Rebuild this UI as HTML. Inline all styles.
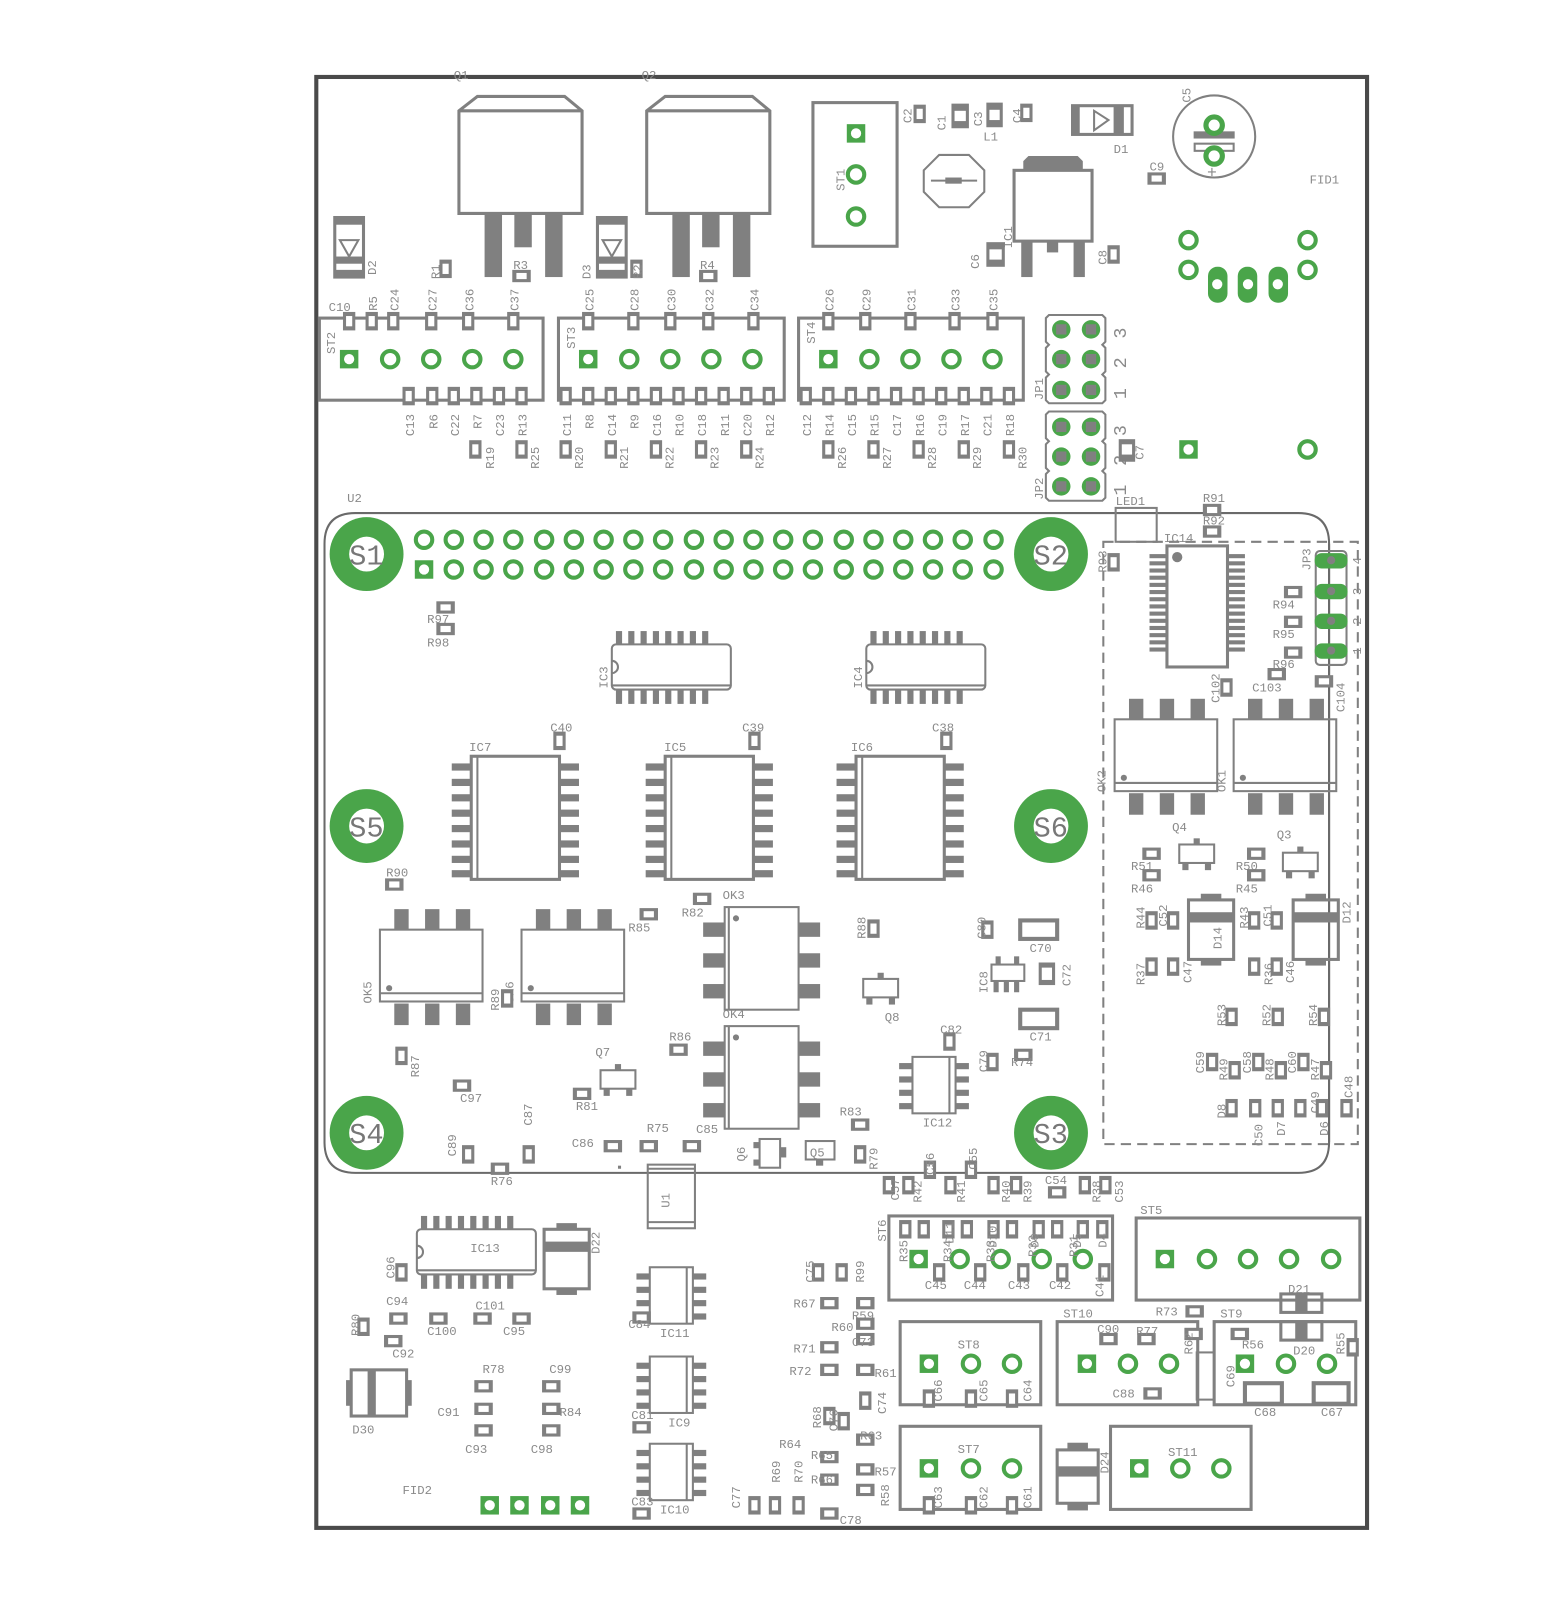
<!DOCTYPE html>
<html><head><meta charset="utf-8"><style>
html,body{margin:0;padding:0;background:#fff}
svg{display:block}
text{font-family:"Liberation Mono",monospace;font-size:12px;fill:#8a8a8a}
.s{fill:none;stroke:#808080;stroke-width:3}
.s2{fill:none;stroke:#808080;stroke-width:2}
.g{fill:#808080}
.big{font-size:28px;fill:#777}
</style></head><body>
<svg width="1552" height="1611" viewBox="0 0 1512 1570" xmlns="http://www.w3.org/2000/svg">
<defs>
<g id="pv"><rect x="-6" y="-9" width="12" height="18" fill="#808080"/><rect x="-3" y="-5" width="6" height="10" fill="#fff"/></g>
<g id="ph"><rect x="-9" y="-6" width="18" height="12" fill="#808080"/><rect x="-5" y="-3" width="10" height="6" fill="#fff"/></g>
<circle id="ho" r="8" fill="#fff" stroke="#4aa54a" stroke-width="4"/>
<g id="sq"><rect x="-9" y="-9" width="18" height="18" fill="#4aa54a"/><circle r="5" fill="#fff"/></g>
<g id="jp"><circle r="9" fill="#4aa54a"/><rect x="-5" y="-5" width="10" height="10" fill="#808080"/></g>
<g id="S"><circle r="36" fill="#4aa54a"/><circle r="17" fill="#fff"/></g>
<g id="soic"><rect x="0" y="0" width="86" height="120" class="s"/><line x1="6" y1="0" x2="6" y2="120" class="s2"/>
<g class="g"><rect x="-19" y="7" width="19" height="7"/><rect x="-19" y="22" width="19" height="7"/><rect x="-19" y="37" width="19" height="7"/><rect x="-19" y="52" width="19" height="7"/><rect x="-19" y="67" width="19" height="7"/><rect x="-19" y="82" width="19" height="7"/><rect x="-19" y="97" width="19" height="7"/><rect x="-19" y="111" width="19" height="7"/>
<rect x="86" y="7" width="19" height="7"/><rect x="86" y="22" width="19" height="7"/><rect x="86" y="37" width="19" height="7"/><rect x="86" y="52" width="19" height="7"/><rect x="86" y="67" width="19" height="7"/><rect x="86" y="82" width="19" height="7"/><rect x="86" y="97" width="19" height="7"/><rect x="86" y="111" width="19" height="7"/></g></g>
<g id="dip"><rect x="0" y="0" width="116" height="44" rx="4" class="s2"/><path d="M0,16 a6,6 0 0 1 0,12" class="s2"/><line x1="0" y1="40" x2="116" y2="40" class="s2"/>
<g class="g"><rect x="4" y="-13" width="6" height="13"/><rect x="16" y="-13" width="6" height="13"/><rect x="28" y="-13" width="6" height="13"/><rect x="40" y="-13" width="6" height="13"/><rect x="52" y="-13" width="6" height="13"/><rect x="64" y="-13" width="6" height="13"/><rect x="76" y="-13" width="6" height="13"/><rect x="88" y="-13" width="6" height="13"/>
<rect x="4" y="44" width="6" height="14"/><rect x="16" y="44" width="6" height="14"/><rect x="28" y="44" width="6" height="14"/><rect x="40" y="44" width="6" height="14"/><rect x="52" y="44" width="6" height="14"/><rect x="64" y="44" width="6" height="14"/><rect x="76" y="44" width="6" height="14"/><rect x="88" y="44" width="6" height="14"/></g></g>
<g id="ok"><rect x="0" y="0" width="100" height="70" class="s2"/><line x1="0" y1="62" x2="100" y2="62" class="s2"/><circle cx="9" cy="57" r="3" fill="#808080"/>
<g class="g"><rect x="14" y="-20" width="14" height="20"/><rect x="44" y="-20" width="14" height="20"/><rect x="74" y="-20" width="14" height="20"/><rect x="14" y="72" width="14" height="21"/><rect x="44" y="72" width="14" height="21"/><rect x="74" y="72" width="14" height="21"/></g></g>
<g id="okv"><rect x="0" y="0" width="72" height="100" class="s2"/><line x1="4" y1="0" x2="4" y2="100" class="s2"/><circle cx="11" cy="11" r="3" fill="#808080"/>
<g class="g"><rect x="-21" y="15" width="21" height="14"/><rect x="-21" y="45" width="21" height="14"/><rect x="-21" y="75" width="21" height="14"/><rect x="72" y="15" width="21" height="14"/><rect x="72" y="45" width="21" height="14"/><rect x="72" y="75" width="21" height="14"/></g></g>
<g id="so8"><rect x="0" y="0" width="42" height="55" class="s2"/><line x1="36" y1="0" x2="36" y2="55" class="s2"/>
<g class="g"><rect x="-13" y="6" width="13" height="6"/><rect x="-13" y="19" width="13" height="6"/><rect x="-13" y="32" width="13" height="6"/><rect x="-13" y="45" width="13" height="6"/><rect x="42" y="6" width="13" height="6"/><rect x="42" y="19" width="13" height="6"/><rect x="42" y="32" width="13" height="6"/><rect x="42" y="45" width="13" height="6"/></g></g>
<g id="sot"><rect x="-17" y="-9" width="34" height="18" class="s2"/><g class="g"><rect x="-3" y="-15" width="6" height="6"/><rect x="-14" y="9" width="6" height="7"/><rect x="8" y="9" width="6" height="7"/></g></g>
<g id="smd"><rect x="0" y="0" width="44" height="58" class="s"/><rect x="0" y="12" width="44" height="10" fill="#808080"/><rect x="12" y="-6" width="20" height="6" fill="#808080"/><rect x="12" y="58" width="20" height="6" fill="#808080"/></g>
<g id="dio"><rect x="0" y="0" width="28" height="58" class="s"/><rect x="0" y="0" width="28" height="7" fill="#808080"/><rect x="0" y="51" width="28" height="7" fill="#808080"/><rect x="0" y="38" width="28" height="7" fill="#808080"/><path d="M5,22 L23,22 L14,38 Z" class="s2"/></g>
<g id="to"><path d="M0,14 L18,0 L103,0 L120,14 L120,114 L0,114 Z M0,14 L120,14" class="s"/><g class="g"><rect x="25" y="114" width="17" height="62"/><rect x="54" y="114" width="17" height="33"/><rect x="84" y="114" width="17" height="62"/></g></g>
</defs>

<!-- board -->
<rect x="308" y="75" width="1024" height="1414" fill="none" stroke="#4a4a4a" stroke-width="4"/>

<!-- Q1 Q2 -->
<text x="442" y="77">Q1</text><text x="625" y="77">Q2</text>
<use href="#to" x="447" y="94"/><use href="#to" x="630" y="94"/>
<use href="#dio" x="326" y="212"/><use href="#dio" x="582" y="212"/>
<text transform="translate(366,268) rotate(-90)">D2</text>
<text transform="translate(575,272) rotate(-90)">D3</text>
<use href="#pv" x="434" y="262"/><text transform="translate(428,272) rotate(-90)">R1</text>
<use href="#ph" x="508" y="269"/><text x="500" y="262">R3</text>
<use href="#pv" x="620" y="262"/><text transform="translate(625,272) rotate(-90)">R2</text>
<use href="#ph" x="690" y="269"/><text x="682" y="262">R4</text>

<!-- ST2 ST3 ST4 -->
<rect x="311" y="310" width="218" height="80" class="s"/>
<rect x="544" y="310" width="220" height="80" class="s"/>
<rect x="778" y="310" width="219" height="80" class="s"/>
<text transform="translate(326,345) rotate(-90)">ST2</text>
<text transform="translate(560,340) rotate(-90)">ST3</text>
<text transform="translate(794,335) rotate(-90)">ST4</text>
<use href="#sq" x="340" y="350"/><use href="#ho" x="380" y="350"/><use href="#ho" x="420" y="350"/><use href="#ho" x="460" y="350"/><use href="#ho" x="500" y="350"/>
<use href="#sq" x="573" y="350"/><use href="#ho" x="613" y="350"/><use href="#ho" x="653" y="350"/><use href="#ho" x="693" y="350"/><use href="#ho" x="733" y="350"/>
<use href="#sq" x="807" y="350"/><use href="#ho" x="847" y="350"/><use href="#ho" x="887" y="350"/><use href="#ho" x="927" y="350"/><use href="#ho" x="967" y="350"/>
<!-- top pads -->
<g>
<use href="#pv" x="340" y="313"/><use href="#pv" x="362" y="313"/><use href="#pv" x="383" y="313"/><use href="#pv" x="420" y="313"/><use href="#pv" x="456" y="313"/><use href="#pv" x="500" y="313"/>
<use href="#pv" x="573" y="313"/><use href="#pv" x="617" y="313"/><use href="#pv" x="653" y="313"/><use href="#pv" x="690" y="313"/><use href="#pv" x="734" y="313"/>
<use href="#pv" x="807" y="313"/><use href="#pv" x="843" y="313"/><use href="#pv" x="887" y="313"/><use href="#pv" x="930" y="313"/><use href="#pv" x="967" y="313"/>
</g>
<text x="320" y="303">C10</text>
<text transform="translate(367,303) rotate(-90)">R5</text>
<text transform="translate(388,303) rotate(-90)">C24</text>
<text transform="translate(425,303) rotate(-90)">C27</text>
<text transform="translate(461,303) rotate(-90)">C36</text>
<text transform="translate(505,303) rotate(-90)">C37</text>
<text transform="translate(578,303) rotate(-90)">C25</text>
<text transform="translate(622,303) rotate(-90)">C28</text>
<text transform="translate(658,303) rotate(-90)">C30</text>
<text transform="translate(695,303) rotate(-90)">C32</text>
<text transform="translate(739,303) rotate(-90)">C34</text>
<text transform="translate(812,303) rotate(-90)">C26</text>
<text transform="translate(848,303) rotate(-90)">C29</text>
<text transform="translate(892,303) rotate(-90)">C31</text>
<text transform="translate(935,303) rotate(-90)">C33</text>
<text transform="translate(972,303) rotate(-90)">C35</text>
<!-- bottom pads -->
<g>
<use href="#pv" x="398" y="386"/><use href="#pv" x="421" y="386"/><use href="#pv" x="442" y="386"/><use href="#pv" x="464" y="386"/><use href="#pv" x="486" y="386"/><use href="#pv" x="508" y="386"/>
<use href="#pv" x="551" y="386"/><use href="#pv" x="573" y="386"/><use href="#pv" x="595" y="386"/><use href="#pv" x="617" y="386"/><use href="#pv" x="639" y="386"/><use href="#pv" x="661" y="386"/><use href="#pv" x="683" y="386"/><use href="#pv" x="705" y="386"/><use href="#pv" x="727" y="386"/><use href="#pv" x="749" y="386"/>
<use href="#pv" x="785" y="386"/><use href="#pv" x="807" y="386"/><use href="#pv" x="829" y="386"/><use href="#pv" x="851" y="386"/><use href="#pv" x="873" y="386"/><use href="#pv" x="895" y="386"/><use href="#pv" x="917" y="386"/><use href="#pv" x="939" y="386"/><use href="#pv" x="961" y="386"/><use href="#pv" x="983" y="386"/>
</g>
<g>
<text transform="translate(403,425) rotate(-90)">C13</text><text transform="translate(426,418) rotate(-90)">R6</text><text transform="translate(447,425) rotate(-90)">C22</text><text transform="translate(469,418) rotate(-90)">R7</text><text transform="translate(491,425) rotate(-90)">C23</text><text transform="translate(513,425) rotate(-90)">R13</text>
<text transform="translate(556,425) rotate(-90)">C11</text><text transform="translate(578,418) rotate(-90)">R8</text><text transform="translate(600,425) rotate(-90)">C14</text><text transform="translate(622,418) rotate(-90)">R9</text><text transform="translate(644,425) rotate(-90)">C16</text><text transform="translate(666,425) rotate(-90)">R10</text><text transform="translate(688,425) rotate(-90)">C18</text><text transform="translate(710,425) rotate(-90)">R11</text><text transform="translate(732,425) rotate(-90)">C20</text><text transform="translate(754,425) rotate(-90)">R12</text>
<text transform="translate(790,425) rotate(-90)">C12</text><text transform="translate(812,425) rotate(-90)">R14</text><text transform="translate(834,425) rotate(-90)">C15</text><text transform="translate(856,425) rotate(-90)">R15</text><text transform="translate(878,425) rotate(-90)">C17</text><text transform="translate(900,425) rotate(-90)">R16</text><text transform="translate(922,425) rotate(-90)">C19</text><text transform="translate(944,425) rotate(-90)">R17</text><text transform="translate(966,425) rotate(-90)">C21</text><text transform="translate(988,425) rotate(-90)">R18</text>
</g>
<g>
<use href="#pv" x="463" y="438"/><use href="#pv" x="508" y="438"/><use href="#pv" x="551" y="438"/><use href="#pv" x="595" y="438"/><use href="#pv" x="639" y="438"/><use href="#pv" x="683" y="438"/><use href="#pv" x="727" y="438"/><use href="#pv" x="807" y="438"/><use href="#pv" x="851" y="438"/><use href="#pv" x="895" y="438"/><use href="#pv" x="939" y="438"/><use href="#pv" x="983" y="438"/>
<text transform="translate(481,457) rotate(-90)">R19</text><text transform="translate(525,457) rotate(-90)">R25</text><text transform="translate(568,457) rotate(-90)">R20</text><text transform="translate(612,457) rotate(-90)">R21</text><text transform="translate(656,457) rotate(-90)">R22</text><text transform="translate(700,457) rotate(-90)">R23</text><text transform="translate(744,457) rotate(-90)">R24</text><text transform="translate(824,457) rotate(-90)">R26</text><text transform="translate(868,457) rotate(-90)">R27</text><text transform="translate(912,457) rotate(-90)">R28</text><text transform="translate(956,457) rotate(-90)">R29</text><text transform="translate(1000,457) rotate(-90)">R30</text>
</g>

<!-- ST1 -->
<rect x="792" y="100" width="82" height="140" class="s"/>
<use href="#sq" x="834" y="130"/><use href="#ho" x="834" y="170"/><use href="#ho" x="834" y="211"/>
<text transform="translate(823,186) rotate(-90)">ST1</text>
<use href="#pv" x="896" y="111"/><text transform="translate(888,120) rotate(-90)">C2</text>
<rect x="927" y="101" width="17" height="24" fill="#808080"/><rect x="930" y="108" width="11" height="10" fill="#fff"/><text transform="translate(921,127) rotate(-90)">C1</text>
<rect x="961" y="100" width="16" height="24" fill="#808080"/><rect x="964" y="107" width="10" height="10" fill="#fff"/><text transform="translate(957,123) rotate(-90)">C3</text>
<use href="#pv" x="1000" y="110"/><text transform="translate(995,120) rotate(-90)">C4</text>
<text x="958" y="137">L1</text>
<path d="M900,166 L915,151 L944,151 L959,166 L959,187 L944,202 L915,202 L900,187 Z" class="s2"/>
<line x1="907" y1="176" x2="952" y2="176" class="s2"/><rect x="921" y="173" width="16" height="6" fill="#808080"/>
<!-- regulator -->
<path d="M997,166 L997,157 L1002,152 L1050,152 L1055,157 L1055,166 Z" fill="#808080"/>
<rect x="988" y="166" width="76" height="69" class="s"/>
<g class="g"><rect x="995" y="236" width="11" height="34"/><rect x="1020" y="236" width="11" height="10"/><rect x="1046" y="236" width="11" height="34"/></g>
<text transform="translate(986,242) rotate(-90)">IC1</text>
<rect x="961" y="236" width="18" height="24" fill="#808080"/><rect x="964" y="243" width="12" height="10" fill="#fff"/><text transform="translate(954,262) rotate(-90)">C6</text>
<use href="#pv" x="1085" y="248"/><text transform="translate(1078,258) rotate(-90)">C8</text>
<!-- D1 -->
<rect x="1045" y="103" width="58" height="28" class="s"/><rect x="1045" y="103" width="7" height="28" fill="#808080"/><rect x="1085" y="103" width="10" height="28" fill="#808080"/>
<path d="M1066,108 L1066,127 L1080,117 Z" class="s2"/>
<text x="1085" y="149">D1</text>
<use href="#ph" x="1127" y="174"/><text x="1120" y="166">C9</text>
<circle cx="1183" cy="133" r="40" class="s2"/>
<text transform="translate(1160,100) rotate(-90)">C5</text>
<rect x="1163" y="128" width="40" height="7" fill="#808080"/><rect x="1164" y="140" width="38" height="7" class="s2"/>
<circle cx="1183" cy="122" r="8" fill="#fff" stroke="#4aa54a" stroke-width="5"/><circle cx="1183" cy="152" r="8" fill="#fff" stroke="#4aa54a" stroke-width="5"/>
<text x="1176" y="173" style="font-size:16px">+</text>
<text x="1276" y="179">FID1</text>
<use href="#ho" x="1158" y="234"/><use href="#ho" x="1274" y="234"/><use href="#ho" x="1158" y="263"/><use href="#ho" x="1274" y="263"/>
<g fill="#4aa54a"><rect x="1177" y="260" width="19" height="35" rx="9"/><rect x="1206" y="260" width="19" height="35" rx="9"/><rect x="1236" y="260" width="19" height="35" rx="9"/></g>
<g fill="#fff"><circle cx="1186" cy="277" r="5"/><circle cx="1216" cy="277" r="5"/><circle cx="1245" cy="277" r="5"/></g>
<use href="#sq" x="1158" y="438"/><use href="#ho" x="1274" y="438"/>

<!-- JP1 JP2 -->
<path d="M1022,307 L1074,307 L1077,310 L1077,333 L1074,336 L1077,339 L1077,362 L1074,365 L1077,368 L1077,390 L1074,393 L1022,393 L1019,390 L1019,368 L1022,365 L1019,362 L1019,339 L1022,336 L1019,333 L1019,310 Z" class="s2"/>
<path d="M1022,401 L1074,401 L1077,404 L1077,427 L1074,430 L1077,433 L1077,456 L1074,459 L1077,462 L1077,485 L1074,488 L1022,488 L1019,485 L1019,462 L1022,459 L1019,456 L1019,433 L1022,430 L1019,427 L1019,404 Z" class="s2"/>
<use href="#jp" x="1034" y="321"/><use href="#jp" x="1063" y="321"/><use href="#jp" x="1034" y="350"/><use href="#jp" x="1063" y="350"/><use href="#jp" x="1034" y="380"/><use href="#jp" x="1063" y="380"/>
<use href="#jp" x="1034" y="416"/><use href="#jp" x="1063" y="416"/><use href="#jp" x="1034" y="445"/><use href="#jp" x="1063" y="445"/><use href="#jp" x="1034" y="474"/><use href="#jp" x="1063" y="474"/>
<g style="font-size:18px"><text transform="translate(1097,330) rotate(-90)" style="font-size:18px">3</text><text transform="translate(1097,359) rotate(-90)" style="font-size:18px">2</text><text transform="translate(1097,389) rotate(-90)" style="font-size:18px">1</text>
<text transform="translate(1097,425) rotate(-90)" style="font-size:18px">3</text><text transform="translate(1097,454) rotate(-90)" style="font-size:18px">2</text><text transform="translate(1097,483) rotate(-90)" style="font-size:18px">1</text></g>
<text transform="translate(1016,390) rotate(-90)">JP1</text><text transform="translate(1016,487) rotate(-90)">JP2</text>
<rect x="1090" y="428" width="16" height="22" fill="#808080"/><rect x="1093" y="433" width="10" height="10" fill="#fff"/><text transform="translate(1114,448) rotate(-90)">C7</text>

<!-- U2 -->
<text x="338" y="489">U2</text>
<path d="M346,500 L1265,500 Q1295,500 1295,530 L1295,1113 Q1295,1143 1265,1143 L346,1143 Q316,1143 316,1113 L316,530 Q316,500 346,500 Z" fill="none" stroke="#6a6a6a" stroke-width="2"/>
<use href="#S" x="357" y="540"/><use href="#S" x="1024" y="540"/><use href="#S" x="357" y="805"/><use href="#S" x="1024" y="805"/><use href="#S" x="357" y="1104"/><use href="#S" x="1024" y="1104"/>
<text class="big" x="340" y="550">S1</text><text class="big" x="1007" y="550">S2</text><text class="big" x="340" y="815">S5</text><text class="big" x="1007" y="815">S6</text><text class="big" x="340" y="1114">S4</text><text class="big" x="1007" y="1114">S3</text>
<g>
<use href="#ho" x="413" y="526"/><use href="#ho" x="442" y="526"/><use href="#ho" x="471" y="526"/><use href="#ho" x="500" y="526"/><use href="#ho" x="530" y="526"/><use href="#ho" x="559" y="526"/><use href="#ho" x="588" y="526"/><use href="#ho" x="617" y="526"/><use href="#ho" x="646" y="526"/><use href="#ho" x="676" y="526"/><use href="#ho" x="705" y="526"/><use href="#ho" x="734" y="526"/><use href="#ho" x="763" y="526"/><use href="#ho" x="792" y="526"/><use href="#ho" x="822" y="526"/><use href="#ho" x="851" y="526"/><use href="#ho" x="880" y="526"/><use href="#ho" x="909" y="526"/><use href="#ho" x="938" y="526"/><use href="#ho" x="968" y="526"/>
<use href="#sq" x="413" y="555"/><use href="#ho" x="442" y="555"/><use href="#ho" x="471" y="555"/><use href="#ho" x="500" y="555"/><use href="#ho" x="530" y="555"/><use href="#ho" x="559" y="555"/><use href="#ho" x="588" y="555"/><use href="#ho" x="617" y="555"/><use href="#ho" x="646" y="555"/><use href="#ho" x="676" y="555"/><use href="#ho" x="705" y="555"/><use href="#ho" x="734" y="555"/><use href="#ho" x="763" y="555"/><use href="#ho" x="792" y="555"/><use href="#ho" x="822" y="555"/><use href="#ho" x="851" y="555"/><use href="#ho" x="880" y="555"/><use href="#ho" x="909" y="555"/><use href="#ho" x="938" y="555"/><use href="#ho" x="968" y="555"/>
</g>
<use href="#ph" x="434" y="592"/><text x="416" y="607">R97</text>
<use href="#ph" x="434" y="613"/><text x="416" y="630">R98</text>
<use href="#dip" x="596" y="628"/><text transform="translate(592,671) rotate(-90)">IC3</text>
<use href="#dip" x="844" y="628"/><text transform="translate(840,671) rotate(-90)">IC4</text>
<use href="#soic" x="459" y="737"/><text x="457" y="732">IC7</text>
<use href="#soic" x="648" y="737"/><text x="647" y="732">IC5</text>
<use href="#soic" x="834" y="737"/><text x="829" y="732">IC6</text>
<use href="#pv" x="545" y="722"/><text x="536" y="713">C40</text>
<use href="#pv" x="735" y="722"/><text x="723" y="713">C39</text>
<use href="#pv" x="922" y="722"/><text x="908" y="713">C38</text>
<use href="#ph" x="384" y="862"/><text x="376" y="854">R90</text>
<use href="#ok" x="370" y="906"/><text transform="translate(362,978) rotate(-90)">OK5</text>
<use href="#ok" x="508" y="906"/><text transform="translate(500,978) rotate(-90)">OK6</text>
<use href="#pv" x="494" y="973"/><text transform="translate(486,985) rotate(-90)">R89</text>
<use href="#ph" x="632" y="891"/><text x="612" y="908">R85</text>
<use href="#ph" x="684" y="876"/><text x="664" y="893">R82</text>
<text x="704" y="876">OK3</text>
<use href="#okv" x="706" y="884"/>
<text x="704" y="992">OK4</text>
<use href="#okv" x="706" y="1000"/>
<use href="#ph" x="661" y="1023"/><text x="652" y="1014">R86</text>
<use href="#pv" x="391" y="1029"/><text transform="translate(408,1050) rotate(-90)">R87</text>
<use href="#ph" x="450" y="1058"/><text x="448" y="1074">C97</text>
<use href="#sot" x="602" y="1052"/><text x="580" y="1029">Q7</text>
<use href="#ph" x="567" y="1066"/><text x="561" y="1082">R81</text>
<use href="#pv" x="515" y="1125"/><text transform="translate(518,1097) rotate(-90)">C87</text>
<use href="#pv" x="456" y="1125"/><text transform="translate(444,1127) rotate(-90)">C89</text>
<use href="#ph" x="487" y="1139"/><text x="478" y="1155">R76</text>
<use href="#ph" x="597" y="1117"/><text x="557" y="1118">C86</text>
<use href="#ph" x="632" y="1117"/><text x="630" y="1103">R75</text>
<use href="#ph" x="674" y="1117"/><text x="678" y="1104">C85</text>
<rect x="602" y="1136" width="3" height="3" fill="#808080"/>
<rect x="740" y="1110" width="20" height="28" class="s2"/><rect x="760" y="1118" width="6" height="10" fill="#808080"/><rect x="734" y="1113" width="6" height="6" fill="#808080"/><rect x="734" y="1130" width="6" height="6" fill="#808080"/><text transform="translate(726,1132) rotate(-90)">Q6</text>
<rect x="785" y="1112" width="28" height="18" class="s2"/><text x="789" y="1127">Q5</text><rect x="795" y="1130" width="7" height="6" fill="#808080"/>
<use href="#pv" x="838" y="1125"/><text transform="translate(855,1140) rotate(-90)">R79</text>
<use href="#ph" x="838" y="1096"/><text x="818" y="1087">R83</text>
<use href="#pv" x="851" y="905"/><text transform="translate(843,915) rotate(-90)">R88</text>
<use href="#sot" x="858" y="963"/><text x="862" y="995">Q8</text>
<use href="#pv" x="962" y="906"/><text transform="translate(960,915) rotate(-90)">C80</text>
<rect x="966" y="940" width="32" height="16" class="s2"/><g class="g"><rect x="968" y="957" width="5" height="10"/><rect x="978" y="957" width="5" height="10"/><rect x="988" y="957" width="5" height="10"/><rect x="970" y="932" width="5" height="8"/><rect x="988" y="932" width="5" height="8"/></g>
<text transform="translate(962,968) rotate(-90)">IC8</text>
<rect x="994" y="897" width="36" height="18" fill="#fff" stroke="#808080" stroke-width="4"/><text x="1003" y="928">C70</text>
<rect x="1012" y="938" width="16" height="22" fill="#808080"/><rect x="1015" y="943" width="10" height="12" fill="#fff"/><text transform="translate(1043,961) rotate(-90)">C72</text>
<rect x="994" y="984" width="36" height="18" fill="#fff" stroke="#808080" stroke-width="4"/><text x="1003" y="1014">C71</text>
<use href="#pv" x="925" y="1015"/><text x="916" y="1007">C82</text>
<use href="#pv" x="967" y="1035"/><text transform="translate(962,1045) rotate(-90)">C79</text>
<use href="#ph" x="997" y="1028"/><text x="985" y="1039">R74</text>
<use href="#so8" x="889" y="1030"/><text x="899" y="1098">IC12</text>

<!-- right section -->
<rect x="1075" y="528" width="248" height="587" fill="none" stroke="#808080" stroke-width="2" stroke-dasharray="10,6"/>
<line x1="1295" y1="530" x2="1295" y2="1113" stroke="#6a6a6a" stroke-width="2"/>
<rect x="1087" y="495" width="40" height="33" class="s2" fill="#fff"/><text x="1087" y="492">LED1</text>
<use href="#ph" x="1181" y="497"/><text x="1172" y="489">R91</text>
<use href="#ph" x="1181" y="518"/><text x="1172" y="511">R92</text>
<use href="#pv" x="1085" y="548"/><text transform="translate(1078,558) rotate(-90)">R93</text>
<rect x="1137" y="532" width="59" height="118" class="s"/><circle cx="1147" cy="543" r="5" fill="#808080"/><text x="1134" y="528">IC14</text>
<g class="g">
<rect x="1120" y="540" width="17" height="4"/><rect x="1120" y="547" width="17" height="4"/><rect x="1120" y="554" width="17" height="4"/><rect x="1120" y="561" width="17" height="4"/><rect x="1120" y="568" width="17" height="4"/><rect x="1120" y="575" width="17" height="4"/><rect x="1120" y="582" width="17" height="4"/><rect x="1120" y="589" width="17" height="4"/><rect x="1120" y="596" width="17" height="4"/><rect x="1120" y="603" width="17" height="4"/><rect x="1120" y="610" width="17" height="4"/><rect x="1120" y="617" width="17" height="4"/><rect x="1120" y="624" width="17" height="4"/><rect x="1120" y="631" width="17" height="4"/>
<rect x="1196" y="540" width="17" height="4"/><rect x="1196" y="547" width="17" height="4"/><rect x="1196" y="554" width="17" height="4"/><rect x="1196" y="561" width="17" height="4"/><rect x="1196" y="568" width="17" height="4"/><rect x="1196" y="575" width="17" height="4"/><rect x="1196" y="582" width="17" height="4"/><rect x="1196" y="589" width="17" height="4"/><rect x="1196" y="596" width="17" height="4"/><rect x="1196" y="603" width="17" height="4"/><rect x="1196" y="610" width="17" height="4"/><rect x="1196" y="617" width="17" height="4"/><rect x="1196" y="624" width="17" height="4"/><rect x="1196" y="631" width="17" height="4"/>
</g>
<use href="#pv" x="1195" y="670"/><text transform="translate(1188,685) rotate(-90)">C102</text>
<use href="#ph" x="1244" y="657"/><text x="1220" y="674">C103</text>
<use href="#ph" x="1260" y="577"/><text x="1240" y="593">R94</text>
<use href="#ph" x="1260" y="606"/><text x="1240" y="622">R95</text>
<use href="#ph" x="1260" y="636"/><text x="1240" y="651">R96</text>
<rect x="1282" y="537" width="30" height="111" rx="4" class="s2"/>
<g fill="#4aa54a"><rect x="1281" y="539" width="32" height="15" rx="7"/><rect x="1281" y="569" width="32" height="15" rx="7"/><rect x="1281" y="598" width="32" height="15" rx="7"/><rect x="1281" y="627" width="32" height="15" rx="7"/></g>
<g fill="#808080"><circle cx="1297" cy="546" r="4"/><circle cx="1297" cy="576" r="4"/><circle cx="1297" cy="605" r="4"/><circle cx="1297" cy="634" r="4"/></g>
<text transform="translate(1277,556) rotate(-90)">JP3</text>
<text transform="translate(1326,550) rotate(-90)">4</text><text transform="translate(1326,580) rotate(-90)">3</text><text transform="translate(1326,609) rotate(-90)">2</text><text transform="translate(1326,638) rotate(-90)">1</text>
<use href="#ph" x="1290" y="664"/><text transform="translate(1310,694) rotate(-90)">C104</text>
<use href="#ok" x="1086" y="701"/><text transform="translate(1077,772) rotate(-90)">OK2</text>
<use href="#ok" x="1202" y="701"/><text transform="translate(1194,772) rotate(-90)">OK1</text>
<use href="#sot" x="1166" y="832"/><text x="1142" y="810">Q4</text>
<use href="#sot" x="1267" y="840"/><text x="1244" y="817">Q3</text>
<use href="#ph" x="1122" y="832"/><text x="1102" y="848">R51</text>
<use href="#ph" x="1122" y="853"/><text x="1102" y="870">R46</text>
<use href="#ph" x="1224" y="832"/><text x="1204" y="848">R50</text>
<use href="#ph" x="1224" y="853"/><text x="1204" y="870">R45</text>
<use href="#smd" x="1158" y="877"/><text transform="translate(1190,925) rotate(-90)">D14</text>
<use href="#smd" x="1260" y="877"/><text transform="translate(1316,900) rotate(-90)">D12</text>
<use href="#pv" x="1122" y="897"/><text transform="translate(1115,905) rotate(-90)">R44</text>
<use href="#pv" x="1143" y="897"/><text transform="translate(1137,903) rotate(-90)">C52</text>
<use href="#pv" x="1222" y="897"/><text transform="translate(1216,905) rotate(-90)">R43</text>
<use href="#pv" x="1244" y="897"/><text transform="translate(1239,903) rotate(-90)">C51</text>
<use href="#pv" x="1122" y="942"/><text transform="translate(1115,960) rotate(-90)">R37</text>
<use href="#pv" x="1143" y="942"/><text transform="translate(1161,958) rotate(-90)">C47</text>
<use href="#pv" x="1222" y="942"/><text transform="translate(1240,960) rotate(-90)">R36</text>
<use href="#pv" x="1244" y="942"/><text transform="translate(1261,958) rotate(-90)">C46</text>
<use href="#pv" x="1200" y="991"/><text transform="translate(1194,1000) rotate(-90)">R53</text>
<use href="#pv" x="1245" y="991"/><text transform="translate(1238,1000) rotate(-90)">R52</text>
<use href="#pv" x="1290" y="991"/><text transform="translate(1283,1000) rotate(-90)">R54</text>
<use href="#pv" x="1181" y="1035"/><text transform="translate(1173,1046) rotate(-90)">C59</text>
<use href="#pv" x="1203" y="1043"/><text transform="translate(1196,1053) rotate(-90)">R49</text>
<use href="#pv" x="1226" y="1035"/><text transform="translate(1219,1046) rotate(-90)">C58</text>
<use href="#pv" x="1248" y="1043"/><text transform="translate(1241,1053) rotate(-90)">R48</text>
<use href="#pv" x="1270" y="1035"/><text transform="translate(1263,1046) rotate(-90)">C60</text>
<use href="#pv" x="1292" y="1043"/><text transform="translate(1285,1053) rotate(-90)">R47</text>
<use href="#pv" x="1200" y="1080"/><text transform="translate(1194,1090) rotate(-90)">D8</text>
<use href="#pv" x="1223" y="1080"/><text transform="translate(1230,1117) rotate(-90)">C50</text>
<use href="#pv" x="1245" y="1080"/><text transform="translate(1252,1107) rotate(-90)">D7</text>
<use href="#pv" x="1267" y="1080"/><text transform="translate(1285,1085) rotate(-90)">C49</text>
<use href="#pv" x="1288" y="1080"/><text transform="translate(1294,1107) rotate(-90)">D6</text>
<use href="#pv" x="1312" y="1080"/><text transform="translate(1318,1070) rotate(-90)">C48</text>

<!-- bottom left -->
<rect x="631" y="1135" width="46" height="62" class="s2"/><line x1="631" y1="1191" x2="677" y2="1191" class="s2"/><line x1="631" y1="1139" x2="677" y2="1139" class="s2"/>
<text transform="translate(652,1177) rotate(-90)">U1</text>
<use href="#dip" x="406" y="1198"/><text x="458" y="1220">IC13</text>
<use href="#smd" x="530" y="1198"/><text transform="translate(584,1222) rotate(-90)">D22</text>
<use href="#pv" x="391" y="1240"/><text transform="translate(384,1246) rotate(-90)">C96</text>
<use href="#ph" x="388" y="1285"/><text x="376" y="1272">C94</text>
<use href="#ph" x="427" y="1285"/><text x="416" y="1301">C100</text>
<use href="#ph" x="470" y="1285"/><text x="463" y="1276">C101</text>
<use href="#ph" x="508" y="1285"/><text x="490" y="1301">C95</text>
<use href="#pv" x="354" y="1293"/><text transform="translate(350,1302) rotate(-90)">R80</text>
<use href="#ph" x="383" y="1307"/><text x="382" y="1323">C92</text>
<rect x="342" y="1335" width="54" height="45" class="s"/><rect x="358" y="1335" width="8" height="45" fill="#808080"/><rect x="337" y="1345" width="5" height="25" fill="#808080"/><rect x="396" y="1345" width="5" height="25" fill="#808080"/>
<text x="343" y="1397">D30</text>
<use href="#ph" x="471" y="1351"/><text x="470" y="1338">R78</text>
<use href="#ph" x="537" y="1351"/><text x="535" y="1338">C99</text>
<use href="#ph" x="471" y="1373"/><text x="426" y="1380">C91</text>
<use href="#ph" x="537" y="1373"/><text x="545" y="1380">R84</text>
<use href="#ph" x="471" y="1394"/><text x="453" y="1416">C93</text>
<use href="#ph" x="537" y="1394"/><text x="517" y="1416">C98</text>
<text x="392" y="1456">FID2</text>
<use href="#sq" x="477" y="1467"/><use href="#sq" x="506" y="1467"/><use href="#sq" x="536" y="1467"/><use href="#sq" x="565" y="1467"/>
<use href="#so8" x="633" y="1235"/><text x="643" y="1303">IC11</text>
<use href="#so8" x="633" y="1322"/><text x="651" y="1390">IC9</text>
<use href="#so8" x="633" y="1407"/><text x="643" y="1475">IC10</text>
<use href="#ph" x="625" y="1284"/><text x="612" y="1294">C84</text>
<use href="#ph" x="625" y="1391"/><text x="615" y="1383">C81</text>
<use href="#ph" x="625" y="1475"/><text x="615" y="1467">C83</text>
<use href="#pv" x="797" y="1240"/><text transform="translate(793,1250) rotate(-90)">C75</text>
<use href="#pv" x="820" y="1240"/><text transform="translate(842,1250) rotate(-90)">R99</text>
<use href="#ph" x="808" y="1270"/><text x="773" y="1274">R67</text>
<use href="#ph" x="843" y="1270"/><text x="830" y="1286">R59</text>
<use href="#ph" x="843" y="1290"/><text x="810" y="1297">R60</text>
<use href="#ph" x="843" y="1305"/><text x="830" y="1312">C73</text>
<use href="#ph" x="808" y="1313"/><text x="773" y="1318">R71</text>
<use href="#ph" x="808" y="1335"/><text x="769" y="1340">R72</text>
<use href="#ph" x="843" y="1335"/><text x="852" y="1342">R61</text>
<use href="#pv" x="843" y="1365"/><text transform="translate(863,1378) rotate(-90)">C74</text>
<use href="#pv" x="808" y="1380"/><text transform="translate(800,1392) rotate(-90)">R68</text>
<use href="#pv" x="822" y="1385"/><text transform="translate(816,1395) rotate(-90)">C76</text>
<use href="#ph" x="843" y="1403"/><text x="838" y="1403">R63</text>
<use href="#ph" x="808" y="1420"/><text x="790" y="1422">R65</text>
<use href="#ph" x="808" y="1442"/><text x="790" y="1446">R66</text>
<use href="#ph" x="843" y="1432"/><text x="852" y="1438">R57</text>
<use href="#ph" x="843" y="1452"/><text transform="translate(866,1468) rotate(-90)">R58</text>
<text x="759" y="1411">R64</text>
<text transform="translate(760,1445) rotate(-90)">R69</text>
<text transform="translate(782,1445) rotate(-90)">R70</text>
<use href="#pv" x="735" y="1467"/><text transform="translate(721,1470) rotate(-90)">C77</text>
<use href="#pv" x="755" y="1467"/><use href="#pv" x="778" y="1467"/>
<use href="#ph" x="808" y="1475"/><text x="818" y="1485">C78</text>

<!-- bottom right -->
<g>
<use href="#pv" x="866" y="1155"/><text transform="translate(876,1170) rotate(-90)">C57</text>
<use href="#pv" x="885" y="1155"/><text transform="translate(898,1172) rotate(-90)">R42</text>
<use href="#pv" x="906" y="1140"/><text transform="translate(910,1145) rotate(-90)">C56</text>
<use href="#pv" x="926" y="1155"/><text transform="translate(940,1172) rotate(-90)">R41</text>
<use href="#pv" x="946" y="1140"/><text transform="translate(952,1140) rotate(-90)">C55</text>
<use href="#pv" x="968" y="1155"/><text transform="translate(984,1172) rotate(-90)">R40</text>
<use href="#pv" x="990" y="1155"/><text transform="translate(1005,1172) rotate(-90)">R39</text>
<use href="#ph" x="1030" y="1162"/><text x="1018" y="1154">C54</text>
<use href="#pv" x="1057" y="1155"/><text transform="translate(1072,1172) rotate(-90)">R38</text>
<use href="#pv" x="1077" y="1155"/><text transform="translate(1094,1172) rotate(-90)">C53</text>
</g>
<rect x="866" y="1185" width="218" height="82" class="s"/><text transform="translate(863,1210) rotate(-90)">ST6</text>
<use href="#sq" x="895" y="1227"/><use href="#ho" x="935" y="1227"/><use href="#ho" x="975" y="1227"/><use href="#ho" x="1015" y="1227"/><use href="#ho" x="1055" y="1227"/>
<g>
<use href="#pv" x="882" y="1198"/><use href="#pv" x="900" y="1198"/><use href="#pv" x="924" y="1198"/><use href="#pv" x="942" y="1198"/><use href="#pv" x="968" y="1198"/><use href="#pv" x="986" y="1198"/><use href="#pv" x="1012" y="1198"/><use href="#pv" x="1030" y="1198"/><use href="#pv" x="1055" y="1198"/><use href="#pv" x="1074" y="1198"/>
<use href="#pv" x="915" y="1240"/><use href="#pv" x="955" y="1240"/><use href="#pv" x="997" y="1240"/><use href="#pv" x="1035" y="1240"/><use href="#pv" x="1076" y="1240"/>
</g>
<text transform="translate(884,1230) rotate(-90)">R35</text><text transform="translate(929,1212) rotate(-90)">D11</text><text transform="translate(927,1230) rotate(-90)">R34</text><text transform="translate(971,1216) rotate(-90)">D10</text><text transform="translate(969,1230) rotate(-90)">R33</text><text transform="translate(1012,1216) rotate(-90)">D9</text><text transform="translate(1010,1225) rotate(-90)">R32</text><text transform="translate(1053,1216) rotate(-90)">D5</text><text transform="translate(1050,1225) rotate(-90)">R31</text><text transform="translate(1078,1216) rotate(-90)">D4</text>
<text x="901" y="1256">C45</text><text x="939" y="1256">C44</text><text x="982" y="1256">C43</text><text x="1022" y="1256">C42</text><text transform="translate(1075,1264) rotate(-90)">C41</text>
<rect x="1107" y="1187" width="218" height="80" class="s"/><text x="1111" y="1183">ST5</text>
<use href="#sq" x="1135" y="1227"/><use href="#ho" x="1176" y="1227"/><use href="#ho" x="1216" y="1227"/><use href="#ho" x="1256" y="1227"/><use href="#ho" x="1297" y="1227"/>
<use href="#ph" x="1164" y="1278"/><text x="1126" y="1282">R73</text>
<rect x="1248" y="1261" width="40" height="18" class="s"/><rect x="1262" y="1261" width="12" height="18" fill="#808080"/><text x="1255" y="1260">D21</text>
<rect x="1248" y="1288" width="40" height="18" class="s"/><rect x="1262" y="1288" width="12" height="18" fill="#808080"/><text x="1260" y="1320">D20</text>
<rect x="877" y="1288" width="137" height="81" class="s"/><text x="933" y="1314">ST8</text>
<use href="#sq" x="905" y="1329"/><use href="#ho" x="946" y="1329"/><use href="#ho" x="986" y="1329"/>
<use href="#pv" x="905" y="1363"/><use href="#pv" x="946" y="1363"/><use href="#pv" x="986" y="1363"/>
<text transform="translate(918,1366) rotate(-90)">C66</text><text transform="translate(962,1366) rotate(-90)">C65</text><text transform="translate(1005,1366) rotate(-90)">C64</text>
<rect x="1030" y="1288" width="137" height="81" class="s"/><text x="1036" y="1284">ST10</text>
<use href="#sq" x="1059" y="1329"/><use href="#ho" x="1099" y="1329"/><use href="#ho" x="1139" y="1329"/>
<use href="#ph" x="1080" y="1305"/><text x="1069" y="1299">C90</text>
<use href="#ph" x="1117" y="1305"/><text x="1107" y="1301">R77</text>
<use href="#ph" x="1123" y="1358"/><text x="1084" y="1362">C88</text>
<use href="#ph" x="1163" y="1300"/><text transform="translate(1162,1320) rotate(-90)">R62</text>
<rect x="1166" y="1318" width="17" height="46" class="s2"/><text transform="translate(1203,1352) rotate(-90)">C69</text>
<rect x="1183" y="1288" width="138" height="81" class="s"/><text x="1189" y="1284">ST9</text>
<use href="#sq" x="1213" y="1329"/><use href="#ho" x="1253" y="1329"/><use href="#ho" x="1293" y="1329"/>
<use href="#ph" x="1208" y="1300"/><text x="1210" y="1314">R56</text>
<rect x="1213" y="1348" width="36" height="20" fill="#fff" stroke="#808080" stroke-width="4"/><text x="1222" y="1380">C68</text>
<rect x="1280" y="1348" width="34" height="20" fill="#fff" stroke="#808080" stroke-width="4"/><text x="1287" y="1380">C67</text>
<use href="#pv" x="1318" y="1313"/><text transform="translate(1310,1320) rotate(-90)">R55</text>
<rect x="877" y="1390" width="137" height="81" class="s"/><text x="933" y="1416">ST7</text>
<use href="#sq" x="905" y="1431"/><use href="#ho" x="946" y="1431"/><use href="#ho" x="986" y="1431"/>
<use href="#pv" x="905" y="1467"/><use href="#pv" x="946" y="1467"/><use href="#pv" x="986" y="1467"/>
<text transform="translate(918,1470) rotate(-90)">C63</text><text transform="translate(962,1470) rotate(-90)">C62</text><text transform="translate(1005,1470) rotate(-90)">C61</text>
<rect x="1030" y="1413" width="40" height="52" class="s"/><rect x="1030" y="1429" width="40" height="10" fill="#808080"/><rect x="1040" y="1406" width="20" height="7" fill="#808080"/><rect x="1040" y="1465" width="20" height="7" fill="#808080"/>
<text transform="translate(1080,1436) rotate(-90)">D24</text>
<rect x="1082" y="1390" width="137" height="81" class="s"/><text x="1138" y="1419">ST11</text>
<use href="#sq" x="1110" y="1431"/><use href="#ho" x="1150" y="1431"/><use href="#ho" x="1190" y="1431"/>
</svg>
</body></html>
